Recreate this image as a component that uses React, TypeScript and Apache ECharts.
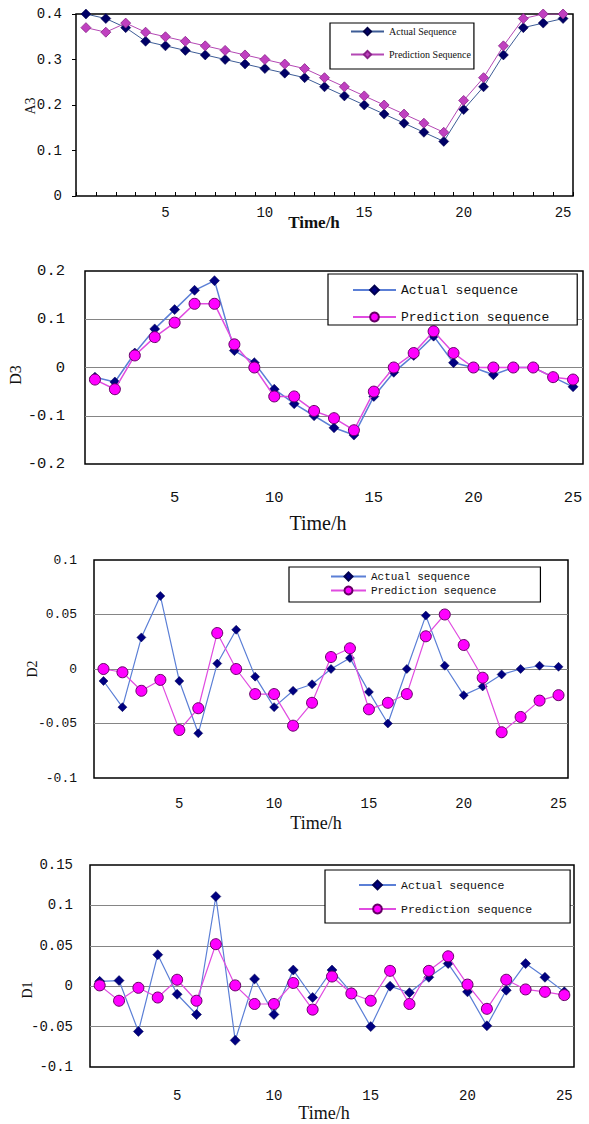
import React, { useEffect, useRef } from "react";
import * as echarts from "echarts";

const hours = ["1","2","3","4","5","6","7","8","9","10","11","12","13","14","15","16","17","18","19","20","21","22","23","24","25"];

const a3Actual = [0.4,0.39,0.37,0.34,0.33,0.32,0.31,0.3,0.29,0.28,0.27,0.26,0.24,0.22,0.2,0.18,0.16,0.14,0.12,0.19,0.24,0.31,0.37,0.38,0.39];
const a3Pred = [0.37,0.36,0.38,0.36,0.35,0.34,0.33,0.32,0.31,0.3,0.29,0.28,0.26,0.24,0.22,0.2,0.18,0.16,0.14,0.21,0.26,0.33,0.39,0.4,0.4];

const d3Actual = [-0.02,-0.03,0.03,0.08,0.12,0.16,0.18,0.035,0.01,-0.045,-0.075,-0.1,-0.125,-0.14,-0.06,-0.01,0.025,0.065,0.01,0,-0.015,0,0,-0.02,-0.04];
const d3Pred = [-0.025,-0.045,0.025,0.063,0.093,0.132,0.132,0.048,0,-0.06,-0.06,-0.09,-0.105,-0.13,-0.05,0,0.03,0.075,0.03,0,0,0,0,-0.02,-0.025];

const d2Actual = [-0.011,-0.035,0.029,0.067,-0.011,-0.059,0.005,0.036,-0.007,-0.035,-0.02,-0.014,0,0.01,-0.021,-0.05,0,0.049,0.003,-0.024,-0.016,-0.005,0,0.003,0.002];
const d2Pred = [0,-0.003,-0.02,-0.01,-0.056,-0.036,0.033,0,-0.023,-0.023,-0.052,-0.031,0.011,0.019,-0.037,-0.031,-0.023,0.03,0.05,0.022,-0.008,-0.058,-0.044,-0.029,-0.024];

const d1Actual = [0.006,0.007,-0.056,0.039,-0.01,-0.035,0.111,-0.067,0.009,-0.035,0.02,-0.014,0.02,-0.008,-0.05,0,-0.008,0.011,0.028,-0.007,-0.049,-0.005,0.028,0.011,-0.007];
const d1Pred = [0.001,-0.018,-0.002,-0.014,0.008,-0.018,0.052,0.001,-0.022,-0.022,0.004,-0.029,0.012,-0.009,-0.018,0.019,-0.022,0.019,0.037,0.002,-0.028,0.008,-0.004,-0.007,-0.011];

const legendNamesA3 = ["Actual Sequence", "Prediction Sequence"];
const legendNamesD = ["Actual sequence", "Prediction sequence"];

const MONO = '"Liberation Mono", "DejaVu Sans Mono", monospace';
const SERIF = '"Liberation Serif", "DejaVu Serif", serif';

const grids = [
  { left: 76, top: 14, width: 497, height: 182 },
  { left: 85, top: 271, width: 498, height: 193 },
  { left: 94, top: 560, width: 474, height: 218 },
  { left: 90, top: 865, width: 484, height: 202 },
];

const yCfg = [
  { min: 0, max: 0.4, interval: 0.1, fs: 14, margin: 14, split: false },
  { min: -0.2, max: 0.2, interval: 0.1, fs: 15.5, margin: 20, split: true },
  { min: -0.1, max: 0.1, interval: 0.05, fs: 13, margin: 17, split: true },
  { min: -0.1, max: 0.15, interval: 0.05, fs: 14, margin: 17, split: true },
];

const xCfg = [
  { fs: 14, margin: 10 },
  { fs: 15.5, margin: 26 },
  { fs: 14, margin: 19 },
  { fs: 14, margin: 22 },
];

function fmt(v: number) {
  return String(parseFloat(Number(v).toFixed(3)));
}

export default function App() {
  const ref = useRef<HTMLDivElement>(null);
  useEffect(() => {
    if (!ref.current) return;
    const chart = echarts.init(ref.current, null, { renderer: "svg" });

    const actualLine = "#5b7fd6";
    const predLine = "#e04ce0";

    const series: any[] = [
      {
        name: legendNamesA3[0], type: "line", xAxisIndex: 0, yAxisIndex: 0, data: a3Actual,
        symbol: "diamond", symbolSize: 10,
        itemStyle: { color: "#000066", borderColor: "#000044", borderWidth: 0.5 },
        lineStyle: { color: "#3d5c96", width: 1 }, z: 2,
      },
      {
        name: legendNamesA3[1], type: "line", xAxisIndex: 0, yAxisIndex: 0, data: a3Pred,
        symbol: "diamond", symbolSize: 10,
        itemStyle: { color: "#c040c0", borderColor: "#882288", borderWidth: 0.8 },
        lineStyle: { color: "#b448b4", width: 1 }, z: 3,
      },
    ];
    const dSets = [
      [d3Actual, d3Pred, 10, 11, 1.5],
      [d2Actual, d2Pred, 9, 11, 1.2],
      [d1Actual, d1Pred, 10, 11, 1.2],
    ] as const;
    dSets.forEach((s, i) => {
      const idx = i + 1;
      series.push({
        name: legendNamesD[0], type: "line", xAxisIndex: idx, yAxisIndex: idx, data: s[0],
        symbol: "diamond", symbolSize: s[2],
        itemStyle: { color: "#000080", borderColor: "#000050", borderWidth: 0.5 },
        lineStyle: { color: actualLine, width: s[4] }, z: 2,
      });
      series.push({
        name: legendNamesD[1], type: "line", xAxisIndex: idx, yAxisIndex: idx, data: s[1],
        symbol: "circle", symbolSize: s[3],
        itemStyle: { color: "#ff00ff", borderColor: "#660066", borderWidth: 1 },
        lineStyle: { color: predLine, width: s[4] }, z: 3,
      });
    });

    const legendBase = {
      orient: "vertical", borderColor: "#000", borderWidth: 1.2, backgroundColor: "#fff",
      selectedMode: false, z: 10,
    };

    const option: any = {
      animation: false,
      backgroundColor: "#fff",
      grid: grids.map((g) => ({
        ...g, show: true, borderColor: "#000", borderWidth: 1.5, backgroundColor: "transparent", containLabel: false,
      })),
      xAxis: grids.map((_, i) => ({
        type: "category", gridIndex: i, data: hours, boundaryGap: true,
        axisLine: { show: false },
        axisTick: i === 0
          ? { show: true, inside: true, length: 4, interval: 0, alignWithLabel: false, lineStyle: { color: "#000", width: 1 } }
          : { show: false },
        axisLabel: {
          interval: (index: number) => (index + 1) % 5 === 0,
          color: "#111", fontFamily: MONO, fontSize: xCfg[i].fs, margin: xCfg[i].margin,
        },
        splitLine: { show: false },
      })),
      yAxis: yCfg.map((c, i) => ({
        type: "value", gridIndex: i, min: c.min, max: c.max, interval: c.interval,
        axisLine: { show: false },
        axisTick: i === 0
          ? { show: true, inside: false, length: 4, lineStyle: { color: "#000", width: 1 } }
          : { show: false },
        axisLabel: { color: "#111", fontFamily: MONO, fontSize: c.fs, margin: c.margin, formatter: fmt },
        splitLine: c.split
          ? { show: true, showMinLine: false, showMaxLine: false, lineStyle: { color: "#858585", width: 1.2 } }
          : { show: false },
      })),
      legend: [
        {
          ...legendBase, data: legendNamesA3, left: 330, top: 23,
          itemWidth: 33, itemHeight: 9, itemGap: 13, padding: [3.5, 3, 9.5, 20],
          textStyle: { fontFamily: '"Liberation Sans Narrow", "Liberation Serif", serif', fontSize: 10, color: "#111" },
        },
        {
          ...legendBase, data: legendNamesD, left: 328, top: 274,
          itemWidth: 43, itemHeight: 11, itemGap: 14, padding: [9.5, 28, 1.5, 24],
          textStyle: { fontFamily: MONO, fontSize: 13, color: "#111" },
        },
        {
          ...legendBase, data: legendNamesD, left: 289, top: 567,
          itemWidth: 35, itemHeight: 10, itemGap: 3, padding: [4, 44, 6, 41],
          textStyle: { fontFamily: MONO, fontSize: 11, color: "#111" },
        },
        {
          ...legendBase, data: legendNamesD, left: 325, top: 870,
          itemWidth: 37, itemHeight: 11, itemGap: 12, padding: [9, 38, 8, 33],
          textStyle: { fontFamily: MONO, fontSize: 11.5, color: "#111" },
        },
      ],
      graphic: [
        { type: "text", x: 314, y: 222, style: { text: "Time/h", fontFamily: SERIF, fontSize: 17, fontWeight: "bold", fill: "#111", align: "center", verticalAlign: "middle" } },
        { type: "text", x: 318, y: 523, style: { text: "Time/h", fontFamily: SERIF, fontSize: 20, fill: "#111", align: "center", verticalAlign: "middle" } },
        { type: "text", x: 316, y: 823, style: { text: "Time/h", fontFamily: SERIF, fontSize: 18, fill: "#111", align: "center", verticalAlign: "middle" } },
        { type: "text", x: 324, y: 1113, style: { text: "Time/h", fontFamily: SERIF, fontSize: 18, fill: "#111", align: "center", verticalAlign: "middle" } },
        { type: "text", x: 30, y: 106, rotation: Math.PI / 2, style: { text: "A3", fontFamily: SERIF, fontSize: 14, fill: "#111", align: "center", verticalAlign: "middle" } },
        { type: "text", x: 15, y: 375, rotation: Math.PI / 2, style: { text: "D3", fontFamily: SERIF, fontSize: 16, fill: "#111", align: "center", verticalAlign: "middle" } },
        { type: "text", x: 32, y: 669, rotation: Math.PI / 2, style: { text: "D2", fontFamily: SERIF, fontSize: 14, fill: "#111", align: "center", verticalAlign: "middle" } },
        { type: "text", x: 27, y: 990, rotation: Math.PI / 2, style: { text: "D1", fontFamily: SERIF, fontSize: 14, fill: "#111", align: "center", verticalAlign: "middle" } },
      ],
      series,
    };

    chart.setOption(option);
    return () => chart.dispose();
  }, []);

  return (
    <div
      ref={ref}
      style={{ position: "absolute", left: 0, top: 0, width: 589, height: 1124, background: "#fff" }}
    />
  );
}
